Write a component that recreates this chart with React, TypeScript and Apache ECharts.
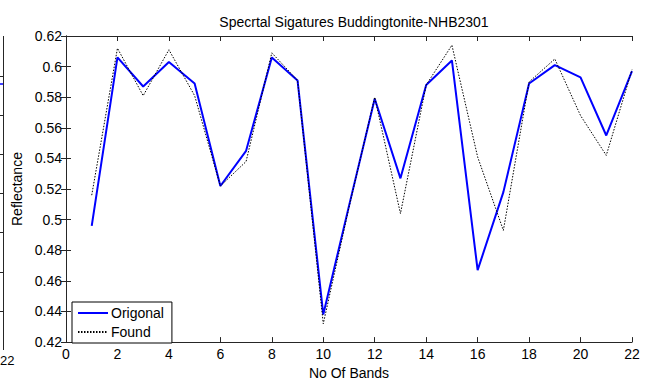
import React, { useEffect, useRef } from "react";
import * as echarts from "echarts";

const bands = [1, 2, 3, 4, 5, 6, 7, 8, 9, 10, 11, 12, 13, 14, 15, 16, 17, 18, 19, 20, 21, 22];
const original = [0.496, 0.606, 0.587, 0.603, 0.589, 0.522, 0.545, 0.606, 0.591, 0.438, 0.509, 0.579, 0.527, 0.588, 0.604, 0.467, 0.518, 0.589, 0.601, 0.593, 0.555, 0.597];
const found = [0.516, 0.612, 0.581, 0.611, 0.581, 0.522, 0.538, 0.609, 0.591, 0.432, 0.508, 0.58, 0.504, 0.588, 0.614, 0.541, 0.493, 0.59, 0.605, 0.568, 0.542, 0.598];

const titleText = "Specrtal Sigatures Buddingtonite-NHB2301";
const xName = "No Of Bands";
const yName = "Reflectance";
const seriesNames = ["Origonal", "Found"];

const FONT = "'Liberation Sans', Arial, sans-serif";
const AXIS = "#262626";

export default function App() {
  const ref = useRef<HTMLDivElement>(null);
  useEffect(() => {
    if (!ref.current) return;
    const chart = echarts.init(ref.current, undefined, { renderer: "svg" });
    const axisCommon = {
      axisLine: { show: true, lineStyle: { color: AXIS, width: 1 } },
      axisTick: { show: true, inside: true, length: 5, lineStyle: { color: AXIS } },
      splitLine: { show: false },
    };
    // fragment of neighbouring chart at left edge
    const fragTicks = [76, 115, 154, 193, 232, 272, 311];
    const graphic: any[] = [
      { type: "line", shape: { x1: 3.5, y1: 36, x2: 3.5, y2: 350 }, style: { stroke: AXIS, lineWidth: 1 } },
      { type: "line", shape: { x1: 0, y1: 84, x2: 3, y2: 84 }, style: { stroke: "#0000ff", lineWidth: 1.5 } },
      ...fragTicks.map((y) => ({ type: "line", shape: { x1: 0, y1: y + 0.5, x2: 3, y2: y + 0.5 }, style: { stroke: AXIS, lineWidth: 1 } })),
      { type: "text", x: 0, y: 354, style: { text: "22", font: `13px ${FONT}`, fill: "#000", textAlign: "left", textVerticalAlign: "top" } },
    ];
    chart.setOption({
      animation: false,
      backgroundColor: "#fff",
      title: {
        text: titleText,
        left: 349,
        top: 10,
        textAlign: "center",
        textStyle: { fontFamily: FONT, fontSize: 14, fontWeight: "normal", color: "#000" },
      },
      grid: { left: 66, right: 13, top: 36, bottom: 36, containLabel: false },
      legend: {
        orient: "vertical",
        left: 72,
        top: 302,
        itemWidth: 30,
        itemHeight: 10,
        itemGap: 5,
        padding: [4, 8, 4, 5],
        borderColor: "#000",
        borderWidth: 1,
        backgroundColor: "#fff",
        itemStyle: { opacity: 0 },
        textStyle: { fontFamily: FONT, fontSize: 14, color: "#000", padding: [0, 0, 0, -2] },
        data: seriesNames,
      },
      xAxis: [
        {
          type: "value",
          min: 0,
          max: 22,
          interval: 2,
          name: xName,
          nameLocation: "middle",
          nameGap: 20,
          nameTextStyle: { fontFamily: FONT, fontSize: 14, color: "#000" },
          axisLabel: { fontFamily: FONT, fontSize: 14, color: "#000", margin: 5 },
          ...axisCommon,
        },
        {
          type: "value",
          position: "top",
          min: 0,
          max: 22,
          interval: 2,
          axisLabel: { show: false },
          ...axisCommon,
        },
      ],
      yAxis: [
        {
          type: "value",
          min: 0.42,
          max: 0.62,
          interval: 0.02,
          name: yName,
          nameLocation: "middle",
          nameGap: 38,
          nameTextStyle: { fontFamily: FONT, fontSize: 14, color: "#000" },
          axisLabel: { fontFamily: FONT, fontSize: 14, color: "#000", margin: 4 },
          ...axisCommon,
        },
        {
          type: "value",
          position: "right",
          min: 0.42,
          max: 0.62,
          interval: 0.02,
          axisLabel: { show: false },
          ...axisCommon,
        },
      ],
      series: [
        {
          name: seriesNames[0],
          type: "line",
          data: bands.map((b, i) => [b, original[i]]),
          symbol: "none",
          lineStyle: { color: "#0000ff", width: 2 },
          itemStyle: { color: "#0000ff" },
          z: 3,
        },
        {
          name: seriesNames[1],
          type: "line",
          data: bands.map((b, i) => [b, found[i]]),
          symbol: "none",
          lineStyle: { color: "#000", width: 1, type: [1.5, 1.5] },
          itemStyle: { color: "#000" },
          z: 4,
        },
      ],
      graphic,
    });
    return () => chart.dispose();
  }, []);
  return (
    <div
      ref={ref}
      style={{ position: "fixed", left: 0, top: 0, width: 645, height: 385, background: "#fff" }}
    />
  );
}
